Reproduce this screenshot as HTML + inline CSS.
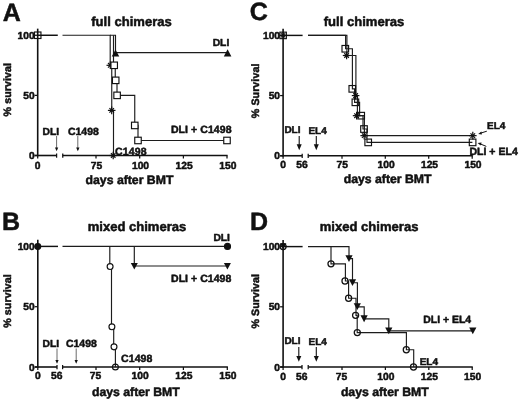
<!DOCTYPE html>
<html lang="en"><head><meta charset="utf-8"><title>Survival curves</title>
<style>html,body{margin:0;padding:0;background:#fff}svg{display:block}text{stroke:#111;stroke-width:.5px;stroke-linejoin:round;text-rendering:geometricPrecision}</style></head>
<body>
<svg width="520" height="401" viewBox="0 0 520 401" font-family="'Liberation Sans', sans-serif" font-weight="bold" fill="#111">
<rect width="520" height="401" fill="#fff"/>
<line x1="37.70" y1="28.65" x2="37.70" y2="156.20" stroke="#111111" stroke-width="1.6" />
<line x1="34.70" y1="35.25" x2="37.70" y2="35.25" stroke="#111111" stroke-width="1.25" />
<text x="34.60" y="38.85" font-size="10.2" text-anchor="end" >100</text>
<line x1="34.70" y1="95.38" x2="37.70" y2="95.38" stroke="#111111" stroke-width="1.25" />
<text x="34.60" y="98.97" font-size="10.2" text-anchor="end" >50</text>
<line x1="34.70" y1="155.50" x2="37.70" y2="155.50" stroke="#111111" stroke-width="1.25" />
<text x="34.60" y="159.10" font-size="10.2" text-anchor="end" >0</text>
<line x1="34.70" y1="155.50" x2="56.60" y2="155.50" stroke="#111111" stroke-width="1.6" />
<line x1="62.75" y1="155.50" x2="227.60" y2="155.50" stroke="#111111" stroke-width="1.6" />
<line x1="56.60" y1="153.50" x2="56.60" y2="157.70" stroke="#111111" stroke-width="1.25" />
<line x1="62.75" y1="153.50" x2="62.75" y2="157.70" stroke="#111111" stroke-width="1.25" />
<line x1="37.70" y1="155.50" x2="37.70" y2="158.50" stroke="#111111" stroke-width="1.25" />
<text x="37.70" y="168.50" font-size="10.3" text-anchor="middle" >0</text>
<line x1="96.00" y1="155.50" x2="96.00" y2="158.50" stroke="#111111" stroke-width="1.25" />
<text x="96.40" y="168.50" font-size="10.3" text-anchor="middle" >75</text>
<line x1="139.70" y1="155.50" x2="139.70" y2="158.50" stroke="#111111" stroke-width="1.25" />
<text x="140.50" y="168.50" font-size="10.3" text-anchor="middle" >100</text>
<line x1="183.40" y1="155.50" x2="183.40" y2="158.50" stroke="#111111" stroke-width="1.25" />
<text x="184.20" y="168.50" font-size="10.3" text-anchor="middle" >125</text>
<line x1="227.00" y1="155.50" x2="227.00" y2="158.50" stroke="#111111" stroke-width="1.25" />
<text x="227.80" y="168.50" font-size="10.3" text-anchor="middle" >150</text>
<text x="129.50" y="184.30" font-size="12.25" text-anchor="middle" >days after BMT</text>
<text x="131.50" y="25.80" font-size="13.05" text-anchor="middle" >full chimeras</text>
<text transform="translate(11.2,89.67) rotate(-90)" font-size="10.65" letter-spacing="0.08" text-anchor="middle">% survival</text>
<text x="2.70" y="20.80" font-size="25" text-anchor="start" >A</text>
<line x1="37.70" y1="35.25" x2="57.80" y2="35.25" stroke="#111111" stroke-width="1.45" />
<polyline points="62.50,35.25 110.20,35.25 110.20,65.31 111.75,65.31 111.75,110.41 113.50,110.41 113.50,155.50" fill="none" stroke="#1c1c1c" stroke-width="1.15" stroke-linejoin="miter"/>
<polyline points="110.00,35.25 115.50,35.25 115.50,52.60 227.50,52.60" fill="none" stroke="#1c1c1c" stroke-width="1.15" stroke-linejoin="miter"/>
<polyline points="113.50,35.25 113.50,65.31 115.25,65.31 115.25,80.34 117.00,80.34 117.00,95.38 134.75,95.38 134.75,125.44 138.00,125.44 138.00,140.47 227.00,140.47" fill="none" stroke="#1c1c1c" stroke-width="1.15" stroke-linejoin="miter"/>
<line x1="106.50" y1="65.31" x2="114.10" y2="65.31" stroke="#111111" stroke-width="1.2" />
<line x1="108.02" y1="63.03" x2="112.58" y2="67.60" stroke="#111111" stroke-width="1.2" />
<line x1="110.30" y1="61.51" x2="110.30" y2="69.11" stroke="#111111" stroke-width="1.2" />
<line x1="112.58" y1="63.03" x2="108.02" y2="67.60" stroke="#111111" stroke-width="1.2" />
<line x1="107.90" y1="110.41" x2="115.50" y2="110.41" stroke="#111111" stroke-width="1.2" />
<line x1="109.42" y1="108.12" x2="113.98" y2="112.69" stroke="#111111" stroke-width="1.2" />
<line x1="111.70" y1="106.61" x2="111.70" y2="114.21" stroke="#111111" stroke-width="1.2" />
<line x1="113.98" y1="108.12" x2="109.42" y2="112.69" stroke="#111111" stroke-width="1.2" />
<line x1="109.40" y1="155.50" x2="117.00" y2="155.50" stroke="#111111" stroke-width="1.2" />
<line x1="110.92" y1="153.22" x2="115.48" y2="157.78" stroke="#111111" stroke-width="1.2" />
<line x1="113.20" y1="151.70" x2="113.20" y2="159.30" stroke="#111111" stroke-width="1.2" />
<line x1="115.48" y1="153.22" x2="110.92" y2="157.78" stroke="#111111" stroke-width="1.2" />
<polygon points="111.75,56.40 119.25,56.40 115.50,49.40" fill="#111111"/>
<polygon points="223.80,56.50 231.40,56.50 227.60,49.30" fill="#111111"/>
<rect x="34.45" y="32.00" width="6.5" height="6.5" fill="none" stroke="#111111" stroke-width="1.15"/>
<rect x="110.95" y="62.06" width="6.5" height="6.5" fill="#fff" stroke="#111111" stroke-width="1.15"/>
<rect x="112.45" y="77.09" width="6.5" height="6.5" fill="#fff" stroke="#111111" stroke-width="1.15"/>
<rect x="113.85" y="92.12" width="6.5" height="6.5" fill="#fff" stroke="#111111" stroke-width="1.15"/>
<rect x="131.50" y="122.19" width="6.5" height="6.5" fill="#fff" stroke="#111111" stroke-width="1.15"/>
<rect x="134.75" y="137.22" width="6.5" height="6.5" fill="#fff" stroke="#111111" stroke-width="1.15"/>
<rect x="223.75" y="137.22" width="6.5" height="6.5" fill="#fff" stroke="#111111" stroke-width="1.15"/>
<text x="42.60" y="134.90" font-size="10.3" text-anchor="start" >DLI</text>
<text x="68.00" y="134.90" font-size="10.45" text-anchor="start" >C1498</text>
<line x1="56.60" y1="136.00" x2="56.60" y2="149.80" stroke="#3a3a3a" stroke-width="0.75" />
<polygon points="54.95,147.60 58.25,147.60 56.60,151.30" fill="#111111"/>
<line x1="77.80" y1="136.00" x2="77.80" y2="149.80" stroke="#3a3a3a" stroke-width="0.75" />
<polygon points="76.15,147.60 79.45,147.60 77.80,151.30" fill="#111111"/>
<text x="115.00" y="154.70" font-size="10.5" text-anchor="start" letter-spacing="0.15">C1498</text>
<text x="170.90" y="133.20" font-size="10.5" text-anchor="start" letter-spacing="0.08">DLI + C1498</text>
<text x="212.70" y="45.60" font-size="10.3" text-anchor="start" >DLI</text>
<line x1="37.80" y1="239.80" x2="37.80" y2="367.70" stroke="#111111" stroke-width="1.6" />
<line x1="34.80" y1="246.40" x2="37.80" y2="246.40" stroke="#111111" stroke-width="1.25" />
<text x="34.70" y="250.00" font-size="10.2" text-anchor="end" >100</text>
<line x1="34.80" y1="306.70" x2="37.80" y2="306.70" stroke="#111111" stroke-width="1.25" />
<text x="34.70" y="310.30" font-size="10.2" text-anchor="end" >50</text>
<line x1="34.80" y1="367.00" x2="37.80" y2="367.00" stroke="#111111" stroke-width="1.25" />
<text x="34.70" y="370.60" font-size="10.2" text-anchor="end" >0</text>
<line x1="34.80" y1="367.00" x2="57.00" y2="367.00" stroke="#111111" stroke-width="1.6" />
<line x1="62.60" y1="367.00" x2="227.90" y2="367.00" stroke="#111111" stroke-width="1.6" />
<line x1="57.00" y1="365.00" x2="57.00" y2="369.20" stroke="#111111" stroke-width="1.25" />
<line x1="62.60" y1="365.00" x2="62.60" y2="369.20" stroke="#111111" stroke-width="1.25" />
<line x1="37.80" y1="367.00" x2="37.80" y2="370.00" stroke="#111111" stroke-width="1.25" />
<text x="37.80" y="379.40" font-size="10.3" text-anchor="middle" >0</text>
<text x="56.70" y="379.40" font-size="10.3" text-anchor="middle" >56</text>
<line x1="96.00" y1="367.00" x2="96.00" y2="370.00" stroke="#111111" stroke-width="1.25" />
<text x="95.50" y="379.40" font-size="10.3" text-anchor="middle" >75</text>
<line x1="139.70" y1="367.00" x2="139.70" y2="370.00" stroke="#111111" stroke-width="1.25" />
<text x="140.20" y="379.40" font-size="10.3" text-anchor="middle" >100</text>
<line x1="183.40" y1="367.00" x2="183.40" y2="370.00" stroke="#111111" stroke-width="1.25" />
<text x="183.90" y="379.40" font-size="10.3" text-anchor="middle" >125</text>
<line x1="227.30" y1="367.00" x2="227.30" y2="370.00" stroke="#111111" stroke-width="1.25" />
<text x="227.80" y="379.40" font-size="10.3" text-anchor="middle" >150</text>
<text x="135.85" y="395.70" font-size="12.25" text-anchor="middle" >days after BMT</text>
<text x="137.00" y="230.50" font-size="13.05" text-anchor="middle" >mixed chimeras</text>
<text transform="translate(11.2,301.00) rotate(-90)" font-size="10.65" letter-spacing="0.08" text-anchor="middle">% survival</text>
<text x="1.90" y="230.00" font-size="25" text-anchor="start" >B</text>
<line x1="37.80" y1="246.40" x2="58.00" y2="246.40" stroke="#111111" stroke-width="1.45" />
<polyline points="62.50,246.40 227.30,246.40" fill="none" stroke="#1c1c1c" stroke-width="1.15" stroke-linejoin="miter"/>
<polyline points="134.30,246.40 134.30,266.00 227.30,266.00" fill="none" stroke="#1c1c1c" stroke-width="1.15" stroke-linejoin="miter"/>
<polyline points="109.80,246.40 109.80,266.54 111.50,266.54 111.50,326.84 113.70,326.84 113.70,346.86 115.40,346.86 115.40,367.00" fill="none" stroke="#1c1c1c" stroke-width="1.15" stroke-linejoin="miter"/>
<circle cx="37.80" cy="246.50" r="2.9" fill="#111111" stroke="#111111" stroke-width="1.15"/>
<circle cx="227.50" cy="246.40" r="3.0" fill="#111111" stroke="#111111" stroke-width="1.15"/>
<polygon points="130.80,263.05 137.80,263.05 134.30,269.55" fill="#111111"/>
<polygon points="223.90,263.05 230.90,263.05 227.40,269.55" fill="#111111"/>
<circle cx="110.10" cy="266.54" r="2.95" fill="#fff" stroke="#111111" stroke-width="1.15"/>
<circle cx="111.90" cy="326.84" r="2.95" fill="#fff" stroke="#111111" stroke-width="1.15"/>
<circle cx="114.00" cy="346.86" r="2.95" fill="#fff" stroke="#111111" stroke-width="1.15"/>
<circle cx="115.4" cy="367.00" r="2.95" fill="none" stroke="#111111" stroke-width="1.15"/>
<text x="42.60" y="346.50" font-size="10.3" text-anchor="start" >DLI</text>
<text x="66.00" y="346.50" font-size="10.45" text-anchor="start" >C1498</text>
<line x1="57.00" y1="348.50" x2="57.00" y2="362.30" stroke="#3a3a3a" stroke-width="0.75" />
<polygon points="55.35,360.10 58.65,360.10 57.00,363.80" fill="#111111"/>
<line x1="76.20" y1="348.50" x2="76.20" y2="362.30" stroke="#3a3a3a" stroke-width="0.75" />
<polygon points="74.55,360.10 77.85,360.10 76.20,363.80" fill="#111111"/>
<text x="121.10" y="361.60" font-size="10.5" text-anchor="start" letter-spacing="0.06">C1498</text>
<text x="171.00" y="282.30" font-size="10.5" text-anchor="start" letter-spacing="0.05">DLI + C1498</text>
<text x="213.40" y="240.60" font-size="10.3" text-anchor="start" >DLI</text>
<line x1="283.10" y1="28.80" x2="283.10" y2="156.45" stroke="#111111" stroke-width="1.6" />
<line x1="280.10" y1="35.40" x2="283.10" y2="35.40" stroke="#111111" stroke-width="1.25" />
<text x="280.00" y="39.00" font-size="10.2" text-anchor="end" >100</text>
<line x1="280.10" y1="95.58" x2="283.10" y2="95.58" stroke="#111111" stroke-width="1.25" />
<text x="280.00" y="99.17" font-size="10.2" text-anchor="end" >50</text>
<line x1="280.10" y1="155.75" x2="283.10" y2="155.75" stroke="#111111" stroke-width="1.25" />
<text x="280.00" y="159.35" font-size="10.2" text-anchor="end" >0</text>
<line x1="280.10" y1="155.75" x2="302.20" y2="155.75" stroke="#111111" stroke-width="1.6" />
<line x1="308.20" y1="155.75" x2="472.80" y2="155.75" stroke="#111111" stroke-width="1.6" />
<line x1="302.20" y1="153.75" x2="302.20" y2="157.95" stroke="#111111" stroke-width="1.25" />
<line x1="308.20" y1="153.75" x2="308.20" y2="157.95" stroke="#111111" stroke-width="1.25" />
<line x1="283.10" y1="155.75" x2="283.10" y2="158.75" stroke="#111111" stroke-width="1.25" />
<text x="283.10" y="168.35" font-size="10.3" text-anchor="middle" >0</text>
<text x="301.90" y="168.35" font-size="10.3" text-anchor="middle" >56</text>
<line x1="342.00" y1="155.75" x2="342.00" y2="158.75" stroke="#111111" stroke-width="1.25" />
<text x="342.20" y="168.35" font-size="10.3" text-anchor="middle" >75</text>
<line x1="385.30" y1="155.75" x2="385.30" y2="158.75" stroke="#111111" stroke-width="1.25" />
<text x="386.10" y="168.35" font-size="10.3" text-anchor="middle" >100</text>
<line x1="428.70" y1="155.75" x2="428.70" y2="158.75" stroke="#111111" stroke-width="1.25" />
<text x="429.50" y="168.35" font-size="10.3" text-anchor="middle" >125</text>
<line x1="472.20" y1="155.75" x2="472.20" y2="158.75" stroke="#111111" stroke-width="1.25" />
<text x="473.00" y="168.35" font-size="10.3" text-anchor="middle" >150</text>
<text x="387.60" y="182.80" font-size="12.25" text-anchor="middle" >days after BMT</text>
<text x="364.00" y="26.40" font-size="13.05" text-anchor="middle" >full chimeras</text>
<text transform="translate(259.1,90.88) rotate(-90)" font-size="10.65" letter-spacing="0.08" text-anchor="middle">% Survival</text>
<text x="249.70" y="20.00" font-size="25" text-anchor="start" >C</text>
<line x1="283.10" y1="35.40" x2="302.60" y2="35.40" stroke="#111111" stroke-width="1.45" />
<polyline points="308.00,35.40 345.60,35.40 345.60,48.76 352.40,48.76 352.40,88.84 354.60,88.84 354.60,102.31 359.60,102.31 359.60,115.67 363.00,115.67 363.00,129.03 367.00,129.03 367.00,142.39 472.40,142.39" fill="none" stroke="#1c1c1c" stroke-width="1.15" stroke-linejoin="miter"/>
<polyline points="308.00,35.40 346.90,35.40 346.90,55.50 355.90,55.50 355.90,95.58 357.40,95.58 357.40,115.67 364.40,115.67 364.40,135.65 472.40,135.65" fill="none" stroke="#1c1c1c" stroke-width="1.15" stroke-linejoin="miter"/>
<line x1="279.70" y1="35.40" x2="286.50" y2="35.40" stroke="#111111" stroke-width="1.2" />
<line x1="281.06" y1="33.36" x2="285.14" y2="37.44" stroke="#111111" stroke-width="1.2" />
<line x1="283.10" y1="32.00" x2="283.10" y2="38.80" stroke="#111111" stroke-width="1.2" />
<line x1="285.14" y1="33.36" x2="281.06" y2="37.44" stroke="#111111" stroke-width="1.2" />
<rect x="279.85" y="32.15" width="6.5" height="6.5" fill="none" stroke="#111111" stroke-width="1.15"/>
<rect x="342.00" y="45.46" width="6.6" height="6.6" fill="none" stroke="#111111" stroke-width="1.15"/>
<rect x="349.00" y="85.54" width="6.6" height="6.6" fill="none" stroke="#111111" stroke-width="1.15"/>
<rect x="352.10" y="99.01" width="6.6" height="6.6" fill="none" stroke="#111111" stroke-width="1.15"/>
<rect x="357.90" y="112.37" width="6.6" height="6.6" fill="none" stroke="#111111" stroke-width="1.15"/>
<rect x="360.70" y="125.73" width="6.6" height="6.6" fill="none" stroke="#111111" stroke-width="1.15"/>
<rect x="364.90" y="139.09" width="6.6" height="6.6" fill="none" stroke="#111111" stroke-width="1.15"/>
<rect x="469.30" y="139.09" width="6.6" height="6.6" fill="none" stroke="#111111" stroke-width="1.15"/>
<line x1="342.80" y1="55.50" x2="350.40" y2="55.50" stroke="#111111" stroke-width="1.2" />
<line x1="344.32" y1="53.21" x2="348.88" y2="57.78" stroke="#111111" stroke-width="1.2" />
<line x1="346.60" y1="51.70" x2="346.60" y2="59.30" stroke="#111111" stroke-width="1.2" />
<line x1="348.88" y1="53.21" x2="344.32" y2="57.78" stroke="#111111" stroke-width="1.2" />
<line x1="351.80" y1="95.58" x2="359.40" y2="95.58" stroke="#111111" stroke-width="1.2" />
<line x1="353.32" y1="93.29" x2="357.88" y2="97.86" stroke="#111111" stroke-width="1.2" />
<line x1="355.60" y1="91.78" x2="355.60" y2="99.38" stroke="#111111" stroke-width="1.2" />
<line x1="357.88" y1="93.29" x2="353.32" y2="97.86" stroke="#111111" stroke-width="1.2" />
<line x1="352.80" y1="115.67" x2="360.40" y2="115.67" stroke="#111111" stroke-width="1.2" />
<line x1="354.32" y1="113.39" x2="358.88" y2="117.96" stroke="#111111" stroke-width="1.2" />
<line x1="356.60" y1="111.87" x2="356.60" y2="119.47" stroke="#111111" stroke-width="1.2" />
<line x1="358.88" y1="113.39" x2="354.32" y2="117.96" stroke="#111111" stroke-width="1.2" />
<line x1="360.40" y1="135.65" x2="368.00" y2="135.65" stroke="#111111" stroke-width="1.2" />
<line x1="361.92" y1="133.37" x2="366.48" y2="137.94" stroke="#111111" stroke-width="1.2" />
<line x1="364.20" y1="131.85" x2="364.20" y2="139.45" stroke="#111111" stroke-width="1.2" />
<line x1="366.48" y1="133.37" x2="361.92" y2="137.94" stroke="#111111" stroke-width="1.2" />
<line x1="469.00" y1="135.65" x2="476.60" y2="135.65" stroke="#111111" stroke-width="1.2" />
<line x1="470.52" y1="133.37" x2="475.08" y2="137.94" stroke="#111111" stroke-width="1.2" />
<line x1="472.80" y1="131.85" x2="472.80" y2="139.45" stroke="#111111" stroke-width="1.2" />
<line x1="475.08" y1="133.37" x2="470.52" y2="137.94" stroke="#111111" stroke-width="1.2" />
<text x="284.40" y="133.20" font-size="10.0" text-anchor="start" >DLI</text>
<text x="308.40" y="134.10" font-size="10.0" text-anchor="start" >EL4</text>
<line x1="299.20" y1="136.00" x2="299.20" y2="147.20" stroke="#111111" stroke-width="1.1" />
<polygon points="296.70,144.30 301.70,144.30 299.20,150.20" fill="#111111"/>
<line x1="316.30" y1="136.00" x2="316.30" y2="147.20" stroke="#111111" stroke-width="1.1" />
<polygon points="313.80,144.30 318.80,144.30 316.30,150.20" fill="#111111"/>
<text x="487.00" y="128.90" font-size="10.0" text-anchor="start" >EL4</text>
<text x="469.40" y="155.40" font-size="10.55" text-anchor="start" >DLI + EL4</text>
<line x1="486.80" y1="131.20" x2="480.50" y2="133.20" stroke="#111111" stroke-width="1.0" />
<polygon points="478.2,133.9 481.4,131.6 481.9,134.6" fill="#111111"/>
<line x1="486.30" y1="146.40" x2="480.00" y2="143.80" stroke="#111111" stroke-width="1.0" />
<polygon points="477.6,142.9 481.6,142.6 480.6,145.4" fill="#111111"/>
<line x1="283.10" y1="240.00" x2="283.10" y2="367.70" stroke="#111111" stroke-width="1.6" />
<line x1="280.10" y1="246.60" x2="283.10" y2="246.60" stroke="#111111" stroke-width="1.25" />
<text x="280.00" y="250.20" font-size="10.2" text-anchor="end" >100</text>
<line x1="280.10" y1="306.80" x2="283.10" y2="306.80" stroke="#111111" stroke-width="1.25" />
<text x="280.00" y="310.40" font-size="10.2" text-anchor="end" >50</text>
<line x1="280.10" y1="367.00" x2="283.10" y2="367.00" stroke="#111111" stroke-width="1.25" />
<text x="280.00" y="370.60" font-size="10.2" text-anchor="end" >0</text>
<line x1="280.10" y1="367.00" x2="302.00" y2="367.00" stroke="#111111" stroke-width="1.6" />
<line x1="308.20" y1="367.00" x2="472.80" y2="367.00" stroke="#111111" stroke-width="1.6" />
<line x1="302.00" y1="365.00" x2="302.00" y2="369.20" stroke="#111111" stroke-width="1.25" />
<line x1="308.20" y1="365.00" x2="308.20" y2="369.20" stroke="#111111" stroke-width="1.25" />
<line x1="283.10" y1="367.00" x2="283.10" y2="370.00" stroke="#111111" stroke-width="1.25" />
<text x="283.10" y="380.00" font-size="10.3" text-anchor="middle" >0</text>
<text x="301.70" y="380.00" font-size="10.3" text-anchor="middle" >56</text>
<line x1="342.00" y1="367.00" x2="342.00" y2="370.00" stroke="#111111" stroke-width="1.25" />
<text x="341.50" y="380.00" font-size="10.3" text-anchor="middle" >75</text>
<line x1="385.40" y1="367.00" x2="385.40" y2="370.00" stroke="#111111" stroke-width="1.25" />
<text x="385.90" y="380.00" font-size="10.3" text-anchor="middle" >100</text>
<line x1="428.80" y1="367.00" x2="428.80" y2="370.00" stroke="#111111" stroke-width="1.25" />
<text x="429.30" y="380.00" font-size="10.3" text-anchor="middle" >125</text>
<line x1="472.20" y1="367.00" x2="472.20" y2="370.00" stroke="#111111" stroke-width="1.25" />
<text x="472.70" y="380.00" font-size="10.3" text-anchor="middle" >150</text>
<text x="384.80" y="396.00" font-size="12.25" text-anchor="middle" >days after BMT</text>
<text x="369.10" y="230.50" font-size="13.05" text-anchor="middle" >mixed chimeras</text>
<text transform="translate(259.1,301.30) rotate(-90)" font-size="10.65" letter-spacing="0.08" text-anchor="middle">% Survival</text>
<text x="249.90" y="230.00" font-size="25" text-anchor="start" >D</text>
<line x1="283.10" y1="246.60" x2="302.60" y2="246.60" stroke="#111111" stroke-width="1.45" />
<polyline points="308.00,246.60 349.00,246.60 349.00,258.64 352.50,258.64 352.50,282.72 357.40,282.72 357.40,306.80 364.20,306.80 364.20,318.84 388.80,318.84 388.80,330.88 472.60,330.88" fill="none" stroke="#1c1c1c" stroke-width="1.15" stroke-linejoin="miter"/>
<polyline points="331.00,246.60 331.00,263.82 345.40,263.82 345.40,281.03 348.60,281.03 348.60,298.25 356.00,298.25 356.00,315.35 357.20,315.35 357.20,332.57 406.40,332.57 406.40,349.78 413.70,349.78 413.70,367.00" fill="none" stroke="#1c1c1c" stroke-width="1.15" stroke-linejoin="miter"/>
<polygon points="279.85,243.30 286.35,243.30 283.10,249.30" fill="#111111"/>
<circle cx="283.1" cy="246.6" r="3.05" fill="none" stroke="#111111" stroke-width="1.25"/>
<polygon points="345.40,255.14 352.60,255.14 349.00,261.94" fill="#111111"/>
<polygon points="348.90,279.22 356.10,279.22 352.50,286.02" fill="#111111"/>
<polygon points="353.70,303.30 360.90,303.30 357.30,310.10" fill="#111111"/>
<polygon points="360.50,315.34 367.70,315.34 364.10,322.14" fill="#111111"/>
<polygon points="385.20,327.38 392.40,327.38 388.80,334.18" fill="#111111"/>
<polygon points="469.20,327.38 476.40,327.38 472.80,334.18" fill="#111111"/>
<circle cx="331.00" cy="263.82" r="3.05" fill="none" stroke="#111111" stroke-width="1.25"/>
<circle cx="345.00" cy="281.03" r="3.05" fill="none" stroke="#111111" stroke-width="1.25"/>
<circle cx="348.60" cy="298.25" r="3.05" fill="none" stroke="#111111" stroke-width="1.25"/>
<circle cx="355.60" cy="315.35" r="3.05" fill="none" stroke="#111111" stroke-width="1.25"/>
<circle cx="357.30" cy="332.57" r="3.05" fill="none" stroke="#111111" stroke-width="1.25"/>
<circle cx="406.30" cy="349.78" r="3.05" fill="none" stroke="#111111" stroke-width="1.25"/>
<circle cx="413.50" cy="367.00" r="3.05" fill="none" stroke="#111111" stroke-width="1.25"/>
<text x="284.40" y="344.40" font-size="10.0" text-anchor="start" >DLI</text>
<text x="308.60" y="345.40" font-size="10.0" text-anchor="start" >EL4</text>
<line x1="298.80" y1="347.00" x2="298.80" y2="358.80" stroke="#111111" stroke-width="1.1" />
<polygon points="296.30,355.90 301.30,355.90 298.80,361.80" fill="#111111"/>
<line x1="316.30" y1="347.00" x2="316.30" y2="358.80" stroke="#111111" stroke-width="1.1" />
<polygon points="313.80,355.90 318.80,355.90 316.30,361.80" fill="#111111"/>
<text x="419.70" y="365.20" font-size="10.0" text-anchor="start" >EL4</text>
<text x="423.30" y="322.90" font-size="10.45" text-anchor="start" >DLI + EL4</text>
</svg>
</body></html>
